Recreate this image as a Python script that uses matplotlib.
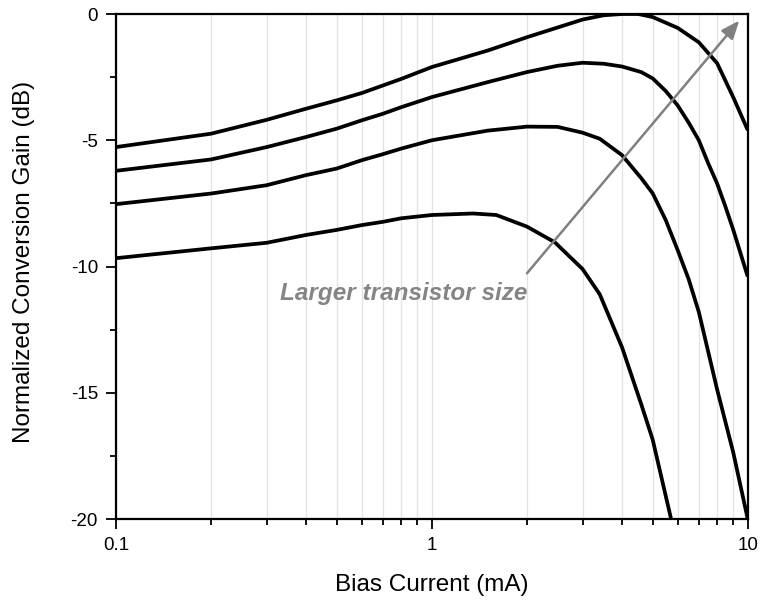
import matplotlib
matplotlib.use("Agg")
import matplotlib.pyplot as plt
from matplotlib.ticker import FixedLocator, NullFormatter

plt.rcParams['font.family'] = ['Liberation Sans', 'DejaVu Sans']
plt.rcParams['axes.unicode_minus'] = False

# Bias current (mA) and normalized gain (dB), one curve per transistor size
x_c1 = [0.1, 0.2, 0.3, 0.4, 0.5, 0.6, 0.7, 0.8, 1.0, 1.5, 2.0, 3.0, 3.5, 4.0, 4.5, 5.0, 6.0, 7.0, 8.0, 9.0, 10.0]
g_c1 = [-5.27, -4.74, -4.19, -3.75, -3.42, -3.13, -2.83, -2.57, -2.1, -1.45, -0.92, -0.22, -0.05, 0.0, 0.0, -0.12, -0.55, -1.12, -1.95, -3.3, -4.6]

x_c2 = [0.1, 0.2, 0.3, 0.4, 0.5, 0.6, 0.7, 0.8, 1.0, 1.5, 2.0, 2.5, 3.0, 3.5, 4.0, 4.6, 5.0, 5.5, 6.0, 6.5, 7.0, 7.5, 8.0, 8.5, 9.0, 10.0]
g_c2 = [-6.21, -5.76, -5.27, -4.87, -4.54, -4.21, -3.95, -3.69, -3.29, -2.7, -2.3, -2.05, -1.93, -1.97, -2.08, -2.3, -2.55, -3.05, -3.62, -4.3, -5.0, -5.92, -6.71, -7.63, -8.55, -10.4]

x_c3 = [0.1, 0.2, 0.3, 0.4, 0.5, 0.6, 0.7, 0.8, 1.0, 1.5, 2.0, 2.5, 3.0, 3.4, 4.0, 4.6, 5.0, 5.5, 6.0, 6.5, 7.0, 8.0, 9.0, 10.0]
g_c3 = [-7.53, -7.11, -6.78, -6.38, -6.12, -5.79, -5.55, -5.33, -5.0, -4.62, -4.46, -4.47, -4.7, -4.94, -5.59, -6.5, -7.1, -8.16, -9.35, -10.5, -11.8, -14.87, -17.37, -20.0]

x_c4 = [0.1, 0.2, 0.3, 0.4, 0.5, 0.6, 0.7, 0.8, 1.0, 1.35, 1.6, 2.0, 2.45, 3.0, 3.4, 4.0, 4.6, 5.0, 5.72]
g_c4 = [-9.67, -9.28, -9.06, -8.75, -8.55, -8.36, -8.23, -8.09, -7.96, -7.9, -7.96, -8.42, -9.04, -10.1, -11.1, -13.2, -15.45, -16.85, -20.0]

curves = [(x_c1, g_c1), (x_c2, g_c2), (x_c3, g_c3), (x_c4, g_c4)]

arrow_tail = (2.0, -10.27)
arrow_tip = (9.4, -0.26)
note = 'Larger transistor size'

fig = plt.figure(figsize=(7.63, 6.01), dpi=100)
ax = fig.add_axes([0.152, 0.1364, 0.828, 0.8403])

for xs, gs in curves:
    ax.plot(xs, gs, color='black', lw=2.7, solid_joinstyle='round',
            solid_capstyle='butt', zorder=3)

ax.set_xscale('log')
ax.set_xlim(0.1, 10)
ax.set_ylim(-20, 0)

ax.xaxis.set_major_locator(FixedLocator([0.1, 1, 10]))
ax.set_xticklabels(['0.1', '1', '10'])
ax.xaxis.set_minor_locator(FixedLocator([m * d for d in (0.1, 1) for m in range(2, 10)]))
ax.xaxis.set_minor_formatter(NullFormatter())
ax.set_yticks([0, -5, -10, -15, -20])
ax.set_yticklabels(['0', '-5', '-10', '-15', '-20'])
ax.yaxis.set_minor_locator(FixedLocator([-2.5, -7.5, -12.5, -17.5]))

ax.grid(True, which='both', axis='x', color='#e2e2e2', lw=0.9, zorder=0)
ax.set_axisbelow(True)

ax.tick_params(which='major', direction='out', length=7, width=1.3, labelsize=13.5, pad=6)
ax.tick_params(which='minor', direction='out', length=4, width=1.3)
ax.tick_params(top=False, right=False, which='both')
for s in ax.spines.values():
    s.set_linewidth(1.6)

ax.set_xlabel('Bias Current (mA)', fontsize=17.5, va='center')
ax.set_ylabel('Normalized Conversion Gain (dB)', fontsize=17.5, va='center')
ax.xaxis.set_label_coords(0.5, -0.131)
ax.yaxis.set_label_coords(-0.145, 0.51)

ax.annotate('', xy=arrow_tip, xytext=arrow_tail,
            arrowprops=dict(arrowstyle='-|>,head_length=1.1,head_width=0.45',
                            color='#808080', lw=1.8, shrinkA=0, shrinkB=0),
            zorder=4)
ax.text(arrow_tail[0], -11.05, note, ha='right', va='center', fontsize=17.5,
        fontweight='bold', fontstyle='italic', color='#858585', zorder=4)

fig.savefig('out.png', dpi=100)
